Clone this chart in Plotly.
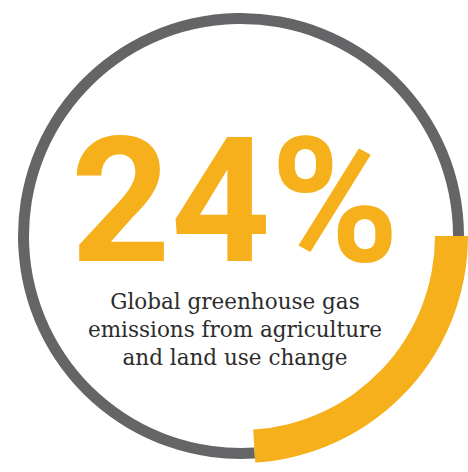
import math
import plotly.graph_objects as go

# Share of global greenhouse gas emissions from agriculture and land use change
share_pct = 24
rest_pct = 100 - share_pct
headline = f"{share_pct}%"
caption_lines = [
    "Global greenhouse gas",
    "emissions from agriculture",
    "and land use change",
]

ORANGE = "#F6B01C"
GRAY = "#656568"
TEXT = "#2c2c2c"

W, H = 468, 472
LEFT = 14                      # shifts the ring centre to the right
RADIUS = (W - LEFT) / 2        # radial axis is set up in pixels

def deg(pct):
    return pct / 100 * 360

start = 90                      # the highlighted arc starts at 3 o'clock
share_w = deg(share_pct)
rest_w = deg(rest_pct)

# headline anchor, as a pixel offset from the ring centre (x right, y up)
head_dx, head_dy = -6, 19
head_r = math.hypot(head_dx, head_dy)
head_theta = math.degrees(math.atan2(head_dx, head_dy)) % 360

fig = go.Figure()

# thin grey ring for the remainder
fig.add_trace(go.Barpolar(
    r=[11], base=[212],
    theta=[start + share_w + rest_w / 2], width=[rest_w],
    marker=dict(color=GRAY, line=dict(width=0)),
    hoverinfo="skip", showlegend=False,
))

# thick orange arc for the share
fig.add_trace(go.Barpolar(
    r=[48], base=[194],
    theta=[start + share_w / 2], width=[share_w],
    marker=dict(color=ORANGE, line=dict(width=0)),
    hoverinfo="skip", showlegend=False,
))

# headline figure
fig.add_trace(go.Scatterpolar(
    r=[head_r], theta=[head_theta], mode="text",
    text=[headline], textposition="middle center",
    textfont=dict(family="Roboto, Liberation Sans, sans-serif",
                  size=174, color=ORANGE, weight=700),
    cliponaxis=False, hoverinfo="skip", showlegend=False,
))

fig.add_annotation(
    text="<br>".join(caption_lines),
    x=(235 - LEFT) / (W - LEFT), y=1 - 329 / H,
    xref="paper", yref="paper", xanchor="center", yanchor="middle",
    showarrow=False, align="center",
    font=dict(family="DejaVu Serif, Liberation Serif, serif", size=21.5, color=TEXT),
)

fig.update_layout(
    width=W, height=H,
    margin=dict(l=LEFT, r=0, t=0, b=0),
    paper_bgcolor="white",
    polar=dict(
        bgcolor="white",
        domain=dict(x=[0, 1], y=[0, 1]),
        radialaxis=dict(visible=False, range=[0, RADIUS]),
        angularaxis=dict(visible=False, direction="clockwise", rotation=90),
        barmode="overlay",
    ),
)

fig.write_html("out.html")
